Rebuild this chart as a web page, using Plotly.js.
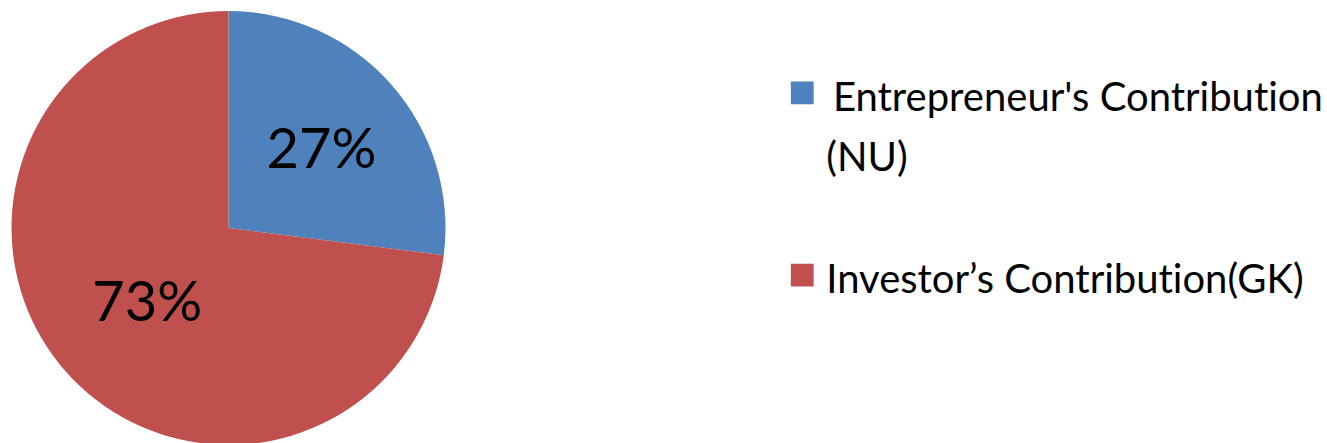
<!DOCTYPE html>
<html>
<head>
<meta charset="utf-8">
<script src="https://cdn.plot.ly/plotly-3.0.1.min.js"></script>
<style>
html,body{margin:0;padding:0;overflow:hidden;background:#fff}
svg text, svg tspan{font-variant-ligatures:none !important;font-feature-settings:"liga" 0,"clig" 0,"dlig" 0 !important}
</style>
</head>
<body>
<div id="chart" style="width:1327px;height:446px"></div>
<script>
const labels = ["\u2006Entrepreneur's Contribution<br>(NU)<br> ", "Investor\u2019s Contribution(GK)"];
const values = [27, 73];
const colors = ["#4F81BD", "#C0504D"];

const legendTextSize = 40;
const legendLabels = labels.map(t => t.split('<br>').map(s => '<span style="font-size:' + legendTextSize + 'px">' + s + '</span>').join('<br>'));

const data = [{
  type: 'pie',
  labels: legendLabels,
  values: values,
  sort: false,
  direction: 'clockwise',
  rotation: 0,
  marker: {colors: colors, line: {width: 0}},
  textinfo: 'percent',
  textposition: 'inside',
  insidetextorientation: 'horizontal',
  insidetextfont: {family: 'Lato, sans-serif', size: 56, color: '#000'},
  hoverinfo: 'none',
  domain: {x: [0.00867, 0.3357], y: [0.00224, 0.9753]}
}];

const layout = {
  width: 1327, height: 446,
  margin: {l: 0, r: 0, t: 0, b: 0, autoexpand: false},
  paper_bgcolor: '#fff',
  showlegend: true,
  legend: {
    x: 0.5925, y: 0.8735, xanchor: 'left', yanchor: 'top',
    valign: 'top',
    font: {family: 'Lato, sans-serif', size: 46, color: '#000'},
    bgcolor: 'rgba(0,0,0,0)'
  }
};

Plotly.newPlot('chart', data, layout, {displayModeBar: false, staticPlot: true}).then(gd => {
  gd.querySelectorAll('.legend path.legendpie').forEach(p => {
    p.setAttribute('transform', 'translate(16,0) scale(1.9)');
  });
});
</script>
</body>
</html>
